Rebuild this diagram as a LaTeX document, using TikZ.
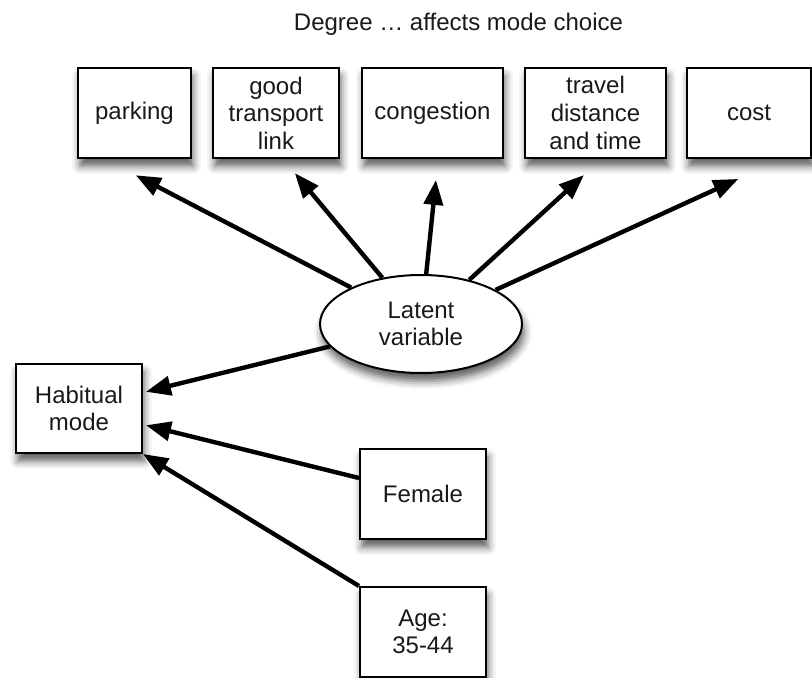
\documentclass[tikz,border=0pt]{standalone}
\usepackage{fontspec}
\setmainfont{Liberation Sans}
\usetikzlibrary{arrows.meta,shapes.geometric,shadows.blur,calc}
\begin{document}
\begin{tikzpicture}[x=0.5pt,y=-0.5pt,
  every node/.style={font=\fontsize{12}{13.8}\selectfont, text=black!90},
  shadowed/.style={blur shadow={shadow xshift=1pt, shadow yshift=-4pt, shadow blur radius=4pt, shadow opacity=65}},
  box/.style={draw, line width=1pt, fill=white, rectangle, align=center, inner sep=2pt,
    minimum height=45pt, shadowed},
  latent/.style={draw, line width=1pt, fill=white, ellipse, align=center, inner sep=0pt,
    minimum width=101pt, minimum height=49pt, shadowed},
  conn/.style={line width=2.2pt, -{Triangle[length=12.5pt,width=9.5pt]}}
]
\useasboundingbox (0,0) rectangle (812,678);

\node (title) at (458.5,24) {Degree … affects mode choice};

\node[box, minimum width=56.5pt] (park) at (134.5,113) {parking};
\node[box, minimum width=63pt] (good) at (276,113) {good\\transport\\link};
\node[box, minimum width=70.5pt] (cong) at (432.5,113) {congestion};
\node[box, minimum width=70.5pt] (trav) at (595.5,113) {travel\\distance\\and time};
\node[box, minimum width=62pt] (cost) at (749,113) {cost};

\node[latent] (lat) at (421,324) {Latent\\variable};

\node[box, minimum width=63pt, minimum height=44.5pt] (hab) at (79,408.5) {Habitual\\mode};
\node[box, minimum width=63pt] (fem) at (423,494) {Female};
\node[box, minimum width=63pt] (age) at (423,632) {Age:\\35-44};

\draw[conn, shorten >=17.6pt] (lat) -- ($(park.south)+(-30,0)$);
\draw[conn, shorten >=9.2pt] (lat) -- ($(good.south)+(7,0)$);
\draw[conn, shorten >=10.5pt] (lat) -- ($(cong.south)+(5.6,0)$);
\draw[conn, shorten >=11.9pt] (lat) -- ($(trav.south)+(6,0)$);
\draw[conn, shorten >=24pt] (lat) -- ($(cost.south)+(33,0)$);

\draw[conn, shorten >=1.5pt] (lat) -- ($(hab.east)+(0,-16)$);
\draw[conn, shorten >=1.5pt] ($(fem.west)+(0,-16)$) -- ($(hab.east)+(0,16)$);
\draw[conn] (age.north west) -- (hab.south east);
\end{tikzpicture}
\end{document}
